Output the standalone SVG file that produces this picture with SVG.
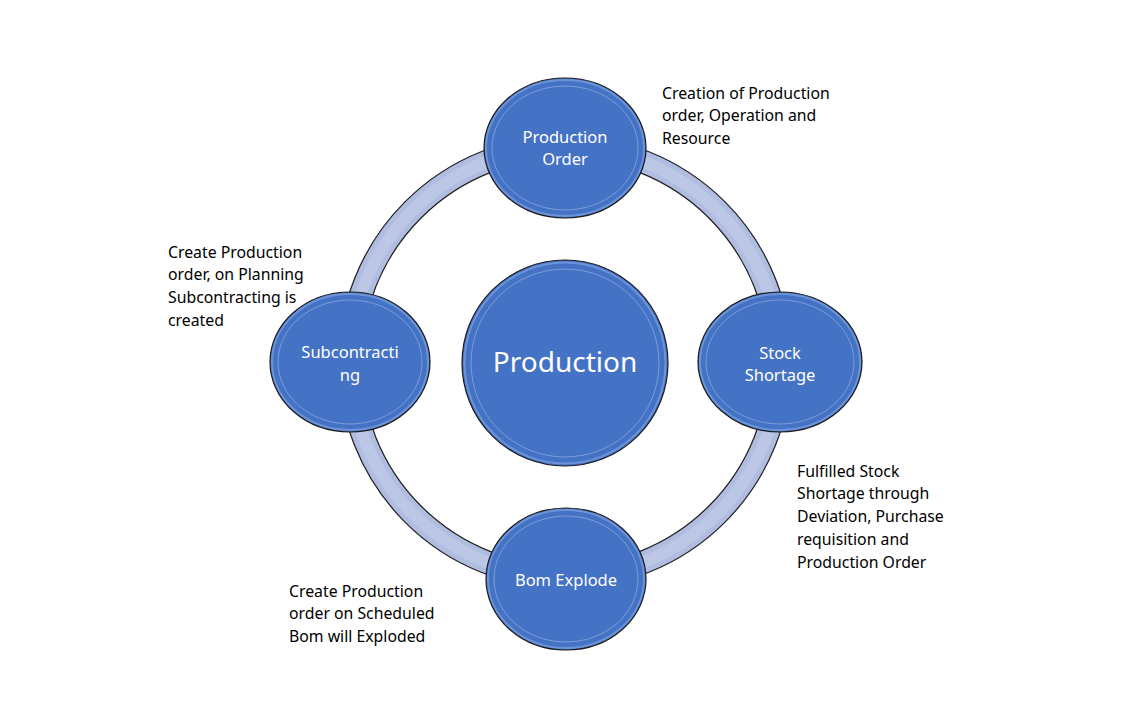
<svg xmlns="http://www.w3.org/2000/svg" width="1128" height="727" viewBox="0 0 1128 727">
<style>
.bg{fill:#ffffff}
.node{fill:#4472c4;stroke:#1c1c1c;stroke-width:1.2}
.rim{fill:none;stroke:#8eaee8;stroke-width:2;opacity:0.55}
.inner{fill:none;stroke:#a9bfea;stroke-width:1;opacity:0.55}
.nt{font-family:"Noto Sans","Open Sans",sans-serif;font-size:16.5px;fill:#ffffff;text-anchor:middle}
.ct{font-family:"Noto Sans","Open Sans",sans-serif;font-size:28px;fill:#ffffff;text-anchor:middle}
.lbl{font-family:"Noto Sans","Open Sans",sans-serif;font-size:15.8px;fill:#000000}
</style>
<rect class="bg" x="0" y="0" width="1128" height="727"/>
<g id="connectors">
<circle cx="565" cy="362" r="215" fill="none" stroke="#222222" stroke-width="24"/>
<circle cx="565" cy="362" r="215" fill="none" stroke="#b0bde0" stroke-width="21.5"/>
<circle cx="565" cy="362" r="215" fill="none" stroke="#bcc7e6" stroke-width="12"/>
</g>
<g id="center">
<circle class="node" cx="565" cy="363" r="103"/>
<circle class="rim" cx="565" cy="363" r="100.5"/>
<circle class="inner" cx="565" cy="363" r="94"/>
<text class="ct" x="565" y="372">Production</text>
</g>
<g id="production-order">
<ellipse class="node" cx="565" cy="148" rx="81" ry="70"/>
<ellipse class="rim" cx="565" cy="148" rx="79" ry="68"/>
<ellipse class="inner" cx="565" cy="148" rx="73" ry="62"/>
<text class="nt" x="565" y="143">Production</text>
<text class="nt" x="565" y="165">Order</text>
</g>
<g id="stock-shortage">
<ellipse class="node" cx="780" cy="362" rx="82" ry="70"/>
<ellipse class="rim" cx="780" cy="362" rx="80" ry="68"/>
<ellipse class="inner" cx="780" cy="362" rx="74" ry="62"/>
<text class="nt" x="780" y="359">Stock</text>
<text class="nt" x="780" y="381">Shortage</text>
</g>
<g id="bom-explode">
<ellipse class="node" cx="566" cy="579" rx="80" ry="71"/>
<ellipse class="rim" cx="566" cy="579" rx="78" ry="69"/>
<ellipse class="inner" cx="566" cy="579" rx="72" ry="63"/>
<text class="nt" x="566" y="586">Bom Explode</text>
</g>
<g id="subcontracting">
<ellipse class="node" cx="350" cy="362" rx="80" ry="70"/>
<ellipse class="rim" cx="350" cy="362" rx="78" ry="68"/>
<ellipse class="inner" cx="350" cy="362" rx="72" ry="62"/>
<text class="nt" x="350" y="358">Subcontracti</text>
<text class="nt" x="350" y="381">ng</text>
</g>
<g id="label-top">
<text class="lbl" x="662" y="99">Creation of Production</text>
<text class="lbl" x="662" y="121">order, Operation and</text>
<text class="lbl" x="662" y="144">Resource</text>
</g>
<g id="label-left">
<text class="lbl" x="168" y="258">Create Production</text>
<text class="lbl" x="168" y="280">order, on Planning</text>
<text class="lbl" x="168" y="303">Subcontracting is</text>
<text class="lbl" x="168" y="326">created</text>
</g>
<g id="label-right">
<text class="lbl" x="797" y="477">Fulfilled Stock</text>
<text class="lbl" x="797" y="499">Shortage through</text>
<text class="lbl" x="797" y="522">Deviation, Purchase</text>
<text class="lbl" x="797" y="545">requisition and</text>
<text class="lbl" x="797" y="568">Production Order</text>
</g>
<g id="label-bottom">
<text class="lbl" x="289" y="597">Create Production</text>
<text class="lbl" x="289" y="619">order on Scheduled</text>
<text class="lbl" x="289" y="642">Bom will Exploded</text>
</g>
</svg>
